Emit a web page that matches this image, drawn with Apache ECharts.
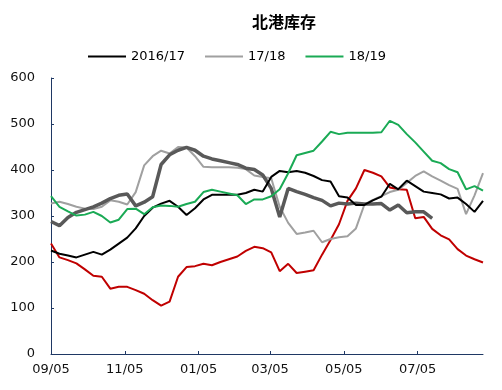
<!DOCTYPE html>
<html><head><meta charset="utf-8">
<script src="https://cdn.jsdelivr.net/npm/echarts@6/dist/echarts.min.js"></script>
<style>html,body{margin:0;padding:0;background:#fff}#c{width:502px;height:390px}</style>
</head><body><div id="c"></div>
<script>
// day offsets from 09/05 (weekly)
const days = [0,7,14,21,28,35,42,49,56,63,70,77,84,91,98,105,112,119,126,133,140,147,154,161,168,175,182,189,196,203,210,217,224,231,238,245,252,259,266,273,280,287,294,301,308,315,322,329,336,343,350,357];
const tickDays = [0,61,122,181,242,303];
const tickLabels = ['09/05','11/05','01/05','03/05','05/05','07/05'];
const legendNames = ['2016/17','17/18','18/19'];

const s1617 = [225,218,214,210,216,222,216,227,240,253,273,300,318,327,333,320,302,317,336,346,346,346,346,350,357,353,385,398,395,398,394,387,378,375,343,340,324,324,334,342,370,358,377,365,353,350,347,338,340,326,309,333];
const s1718 = [327,331,326,320,316,315,320,334,331,325,352,410,430,442,436,450,449,430,407,406,406,406,405,402,388,385,382,320,285,261,264,268,243,250,254,256,273,325,335,343,352,357,372,387,397,386,377,367,359,304,345,393];
const s1819 = [343,320,310,301,303,309,300,286,292,315,316,304,319,323,322,320,326,331,352,357,353,349,345,326,336,336,343,358,393,432,437,442,462,483,478,481,481,481,481,482,507,498,478,460,440,420,415,402,395,358,365,355];
const sThick = [288,279,297,308,314,320,328,338,345,348,322,330,342,412,433,443,449,443,430,424,420,416,412,404,401,389,360,298,360,353,347,340,334,322,328,326,328,326,326,327,313,324,307,309,309,295,null,null,null,null,null,null];
const sRed = [240,210,204,197,184,170,168,142,146,146,139,131,117,105,114,168,189,191,196,193,200,206,212,224,233,230,221,180,196,176,179,182,216,248,282,333,360,400,394,386,362,358,357,295,298,272,258,249,228,214,206,199];

const pair = arr => days.map((d,i)=>[d, arr[i]]);
const FONT = 'DejaVu Sans';
const axisColor = '#1f3864';

function lineSeries(name, arr, color, width) {
  return {name:name, type:'line', data:pair(arr), symbol:'none', showSymbol:false,
    lineStyle:{color:color, width:width}, itemStyle:{color:color, borderWidth:0}};
}

const chart = echarts.init(document.getElementById('c'), null, {renderer:'canvas'});
chart.setOption({
  animation:false,
  backgroundColor:'#fff',
  title:{text:'北港库存', left:247, top:9, textStyle:{fontFamily:'Noto Sans CJK SC', fontWeight:'bold', fontSize:16, color:'#000'}},
  legend:{
    data:legendNames,
    left:82, top:45, itemWidth:38, itemHeight:14, itemGap:19,
    itemStyle:{opacity:0},
    lineStyle:{width:2},
    textStyle:{fontFamily:FONT, fontSize:13, color:'#000'}
  },
  grid:{left:51, right:19, top:78, bottom:36, containLabel:false},
  xAxis:{
    type:'value', min:0, max:357,
    splitLine:{show:false},
    axisLine:{show:true, lineStyle:{color:axisColor, width:1}},
    axisTick:{show:true, inside:true, length:3, customValues:tickDays, lineStyle:{color:axisColor}},
    axisLabel:{customValues:tickDays, margin:9, fontFamily:FONT, fontSize:13, color:'#111',
      formatter:v=>{const k=tickDays.indexOf(v);return k>=0?tickLabels[k]:'';}}
  },
  yAxis:{
    type:'value', min:0, max:600, interval:100,
    splitLine:{show:false},
    axisLine:{show:true, lineStyle:{color:axisColor, width:1}},
    axisTick:{show:true, inside:true, length:3, lineStyle:{color:axisColor}},
    axisLabel:{margin:16, fontFamily:FONT, fontSize:13, color:'#111'}
  },
  series:[
    lineSeries('red', sRed, '#c00000', 2),
    lineSeries('17/18', s1718, '#a0a0a0', 2),
    lineSeries('thick', sThick, '#595959', 3.5),
    lineSeries('2016/17', s1617, '#000000', 2),
    lineSeries('18/19', s1819, '#1aaa55', 2)
  ]
});
</script>
</body></html>
